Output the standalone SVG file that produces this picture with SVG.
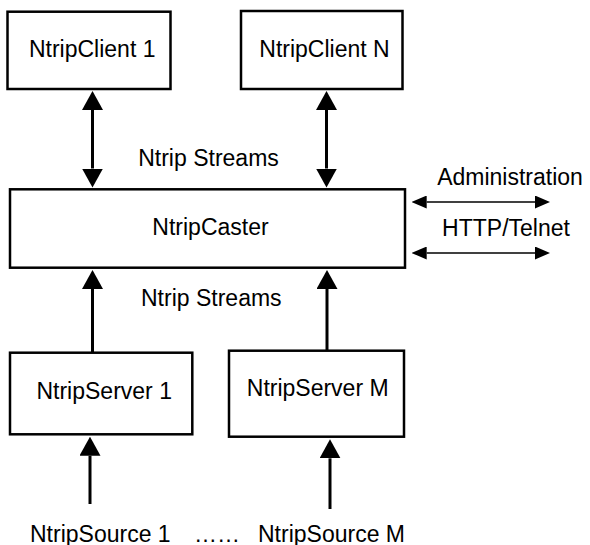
<svg xmlns="http://www.w3.org/2000/svg" width="590" height="545" viewBox="0 0 590 545">
<style>
.box{fill:#fff;stroke:#000;stroke-width:2.5}
.t{font-family:"Liberation Sans",Arial,sans-serif;font-size:23px;fill:#000}
.m{text-anchor:middle}
.thick{stroke:#000;stroke-width:3;fill:none}
.thin{stroke:#000;stroke-width:1.6;fill:none}
</style>
<defs>
<marker id="hb" markerUnits="userSpaceOnUse" markerWidth="19" markerHeight="21" viewBox="0 0 19 21" refX="0" refY="10.5" orient="auto-start-reverse">
<path d="M0,0 L19,10.5 L0,21 z" fill="#000"/>
</marker>
<marker id="hs" markerUnits="userSpaceOnUse" markerWidth="15" markerHeight="13" viewBox="0 0 15 13" refX="0" refY="6.5" orient="auto-start-reverse">
<path d="M0,0 L15,6.5 L0,13 z" fill="#000"/>
</marker>
</defs>
<g id="connectors">
<line class="thick" x1="92.5" y1="110" x2="92.5" y2="168.5" marker-start="url(#hb)" marker-end="url(#hb)"/>
<line class="thick" x1="326.5" y1="110" x2="326.5" y2="168.5" marker-start="url(#hb)" marker-end="url(#hb)"/>
<line class="thick" x1="92.5" y1="352.7" x2="92.5" y2="289" marker-end="url(#hb)"/>
<line class="thick" x1="327" y1="350.7" x2="327" y2="289" marker-end="url(#hb)"/>
<line class="thick" x1="90" y1="504" x2="90" y2="455.7" marker-end="url(#hb)"/>
<line class="thick" x1="330" y1="509" x2="330" y2="458.3" marker-end="url(#hb)"/>
<line class="thin" x1="426.7" y1="202" x2="535" y2="202" marker-start="url(#hs)" marker-end="url(#hs)"/>
<line class="thin" x1="426.7" y1="253" x2="535" y2="253" marker-start="url(#hs)" marker-end="url(#hs)"/>
</g>
<g id="client1">
<rect class="box" x="7.5" y="11.7" width="163" height="77.3"/>
<text class="t m" x="92.2" y="57.3">NtripClient 1</text>
</g>
<g id="clientN">
<rect class="box" x="241" y="11" width="161.5" height="78"/>
<text class="t m" x="324.5" y="57.3">NtripClient N</text>
</g>
<g id="caster">
<rect class="box" x="10" y="189.3" width="395" height="78.4"/>
<text class="t m" x="210.5" y="235">NtripCaster</text>
</g>
<g id="server1">
<rect class="box" x="10" y="352.7" width="182.3" height="81.6"/>
<text class="t m" x="104.2" y="399">NtripServer 1</text>
</g>
<g id="serverM">
<rect class="box" x="229" y="350.7" width="175" height="86"/>
<text class="t m" x="317.7" y="396">NtripServer M</text>
</g>
<g id="labels">
<text class="t m" x="208.5" y="166">Ntrip Streams</text>
<text class="t m" x="211.3" y="306">Ntrip Streams</text>
<text class="t m" x="510" y="185">Administration</text>
<text class="t m" x="506" y="236">HTTP/Telnet</text>
</g>
<g id="sources">
<text class="t" x="30" y="541.5">NtripSource 1</text>
<text class="t" x="194" y="541.5">……</text>
<text class="t" x="258" y="541.5">NtripSource M</text>
</g>
</svg>
